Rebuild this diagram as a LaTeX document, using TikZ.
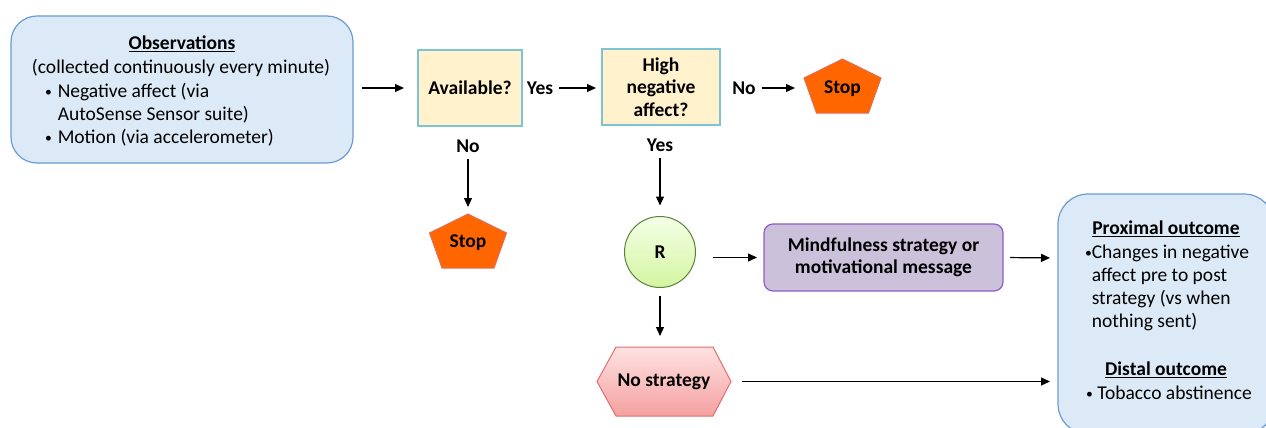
\documentclass[tikz,border=0pt]{standalone}
\usepackage{fontspec}
\usepackage{graphicx}
\setmainfont{Carlito}
\usetikzlibrary{arrows.meta,shapes.geometric}
\definecolor{bluefill}{RGB}{220,233,246}
\definecolor{blueline}{RGB}{108,155,210}
\definecolor{yelfill}{RGB}{255,242,204}
\definecolor{yelline}{RGB}{125,196,210}
\definecolor{stopfill}{RGB}{255,102,0}
\definecolor{stopline}{RGB}{225,110,90}
\definecolor{rtop}{RGB}{244,255,232}
\definecolor{rbot}{RGB}{212,245,160}
\definecolor{rline}{RGB}{90,130,60}
\definecolor{purfill}{RGB}{204,193,218}
\definecolor{purline}{RGB}{142,93,200}
\definecolor{pinktop}{RGB}{255,226,226}
\definecolor{pinkbot}{RGB}{244,160,160}
\definecolor{pinkline}{RGB}{225,110,110}
\newcommand{\bul}{\raisebox{0.15ex}{\scalebox{0.7}{\textbullet}}}
\begin{document}
\begin{tikzpicture}[x=1pt,y=-1pt,
  every node/.style={inner sep=0pt, outer sep=0pt},
  txt/.style={font=\fontsize{19.5}{23}\selectfont},
  ttl/.style={font=\fontsize{19.5}{23}\selectfont\bfseries},
  lbl/.style={font=\fontsize{19.5}{22.5}\selectfont\bfseries, align=center},
  arr/.style={-{Triangle[length=9pt,width=8pt]}, line width=1.2pt},
  roundbox/.style={draw=blueline, fill=bluefill, line width=1.2pt, rounded corners=26pt},
  decbox/.style={draw=yelline, fill=yelfill, line width=1.2pt, rectangle},
  stopsh/.style={draw=stopline, fill=stopfill, line width=1pt},
]
\clip (0,0) rectangle (1266,428);
\useasboundingbox (0,0) rectangle (1266,428);

% Observations
\node[roundbox, minimum width=342pt, minimum height=147pt] (obs) at (182,89.5) {};
\node[ttl] (obstitle) at (182,44) {\underline{Observations}};
\node[txt] (obssub) at (181,68) {(collected continuously every minute)};
\node[txt, anchor=west, align=left] (obslist) at (45,115) {\bul\hspace{6pt}Negative affect (via\\\phantom{\bul}\hspace{6pt}AutoSense Sensor suite)\\\bul\hspace{6pt}Motion (via accelerometer)};

% decisions
\node[decbox, minimum width=104pt, minimum height=76pt, lbl] (avail) at (470,88) {Available?};
\node[decbox, minimum width=118pt, minimum height=76pt, lbl] (high) at (661,87) {High\\negative\\affect?};

\node[lbl] (yes1) at (540,88) {Yes};
\node[lbl] (no1) at (744,88) {No};
\node[lbl] (no2) at (468,146) {No};
\node[lbl] (yes2) at (660,145) {Yes};

% stop pentagons
\draw[stopsh] (842.5,59) -- (881,78) -- (868.5,113) -- (816.5,113) -- (804,78) -- cycle;
\node[lbl, minimum width=77pt, minimum height=20pt] (stop1) at (842.5,89) {Stop};
\draw[stopsh] (468,214) -- (506.5,233) -- (494,268) -- (442,268) -- (429.5,233) -- cycle;
\node[lbl, minimum width=77pt, minimum height=54pt] (stop2) at (468,243) {Stop};

% R
\node[circle, draw=rline, line width=1pt, top color=rtop, bottom color=rbot, minimum size=71pt, lbl] (r) at (660,252) {R};

% Mindfulness
\node[draw=purline, fill=purfill, line width=1.2pt, rounded corners=9pt, minimum width=239pt, minimum height=67pt, lbl] (mind) at (883.5,257.5) {Mindfulness strategy or\\motivational message};

% No strategy
\draw[draw=pinkline, line width=1pt, top color=pinktop, bottom color=pinkbot] (597,381.5) -- (616,347) -- (713,347) -- (731,381.5) -- (713,416) -- (616,416) -- cycle;
\node[lbl, minimum width=134pt, minimum height=69pt] (nos) at (664,381.5) {No strategy};

% Outcome
\draw[roundbox, rounded corners=30pt] (1058,194) rectangle (1274,434);
\coordinate (outA) at (1058,258);
\coordinate (outB) at (1058,381.5);
\node[ttl] (proxt) at (1166,229) {\underline{Proximal outcome}};
\node[txt, anchor=north west, align=left] (proxl) at (1085,245) {\bul Changes in negative\\\phantom{\bul}affect pre to post\\\phantom{\bul}strategy (vs when\\\phantom{\bul}nothing sent)};
\node[ttl] (distt) at (1166,370) {\underline{Distal outcome}};
\node[txt] (distl) at (1169,393) {\bul\ Tobacco abstinence};

% arrows
\draw[arr, shorten <=9pt, shorten >=14pt] (obs.east |- avail.west) -- (avail.west);
\draw[arr, shorten <=6pt, shorten >=6pt] (yes1) -- (high.west |- yes1);
\draw[arr, shorten <=6pt, shorten >=9pt] (no1) -- (no1 -| stop1.west);
\draw[arr, shorten <=7pt, shorten >=9pt] (no2) -- (no2 |- stop2.north);
\draw[arr, shorten <=7pt, shorten >=11pt] (yes2) -- (r.north);
\draw[arr, shorten <=17pt, shorten >=7pt] (r.east |- mind.west) -- (mind.west);
\draw[arr, shorten <=7pt, shorten >=8pt] (mind.east) -- (outA);
\draw[arr, shorten <=8pt, shorten >=11pt] (r.south) -- (r.south |- nos.north);
\draw[arr, shorten <=11pt, shorten >=8pt] (nos.east) -- (outB);
\end{tikzpicture}
\end{document}
